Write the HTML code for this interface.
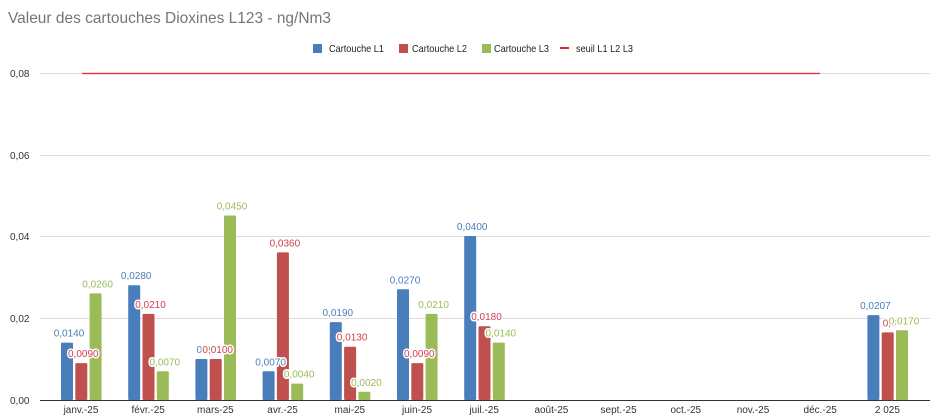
<!DOCTYPE html>
<html><head><meta charset="utf-8"><style>
html,body{margin:0;padding:0;background:#fff;}
svg{display:block;font-family:"Liberation Sans",Arial,sans-serif;}
.ax{font-size:10px;fill:#333;}
.lb{font-size:10px;paint-order:stroke;stroke:#fff;stroke-width:3px;stroke-linejoin:round;text-anchor:middle;}
.b{fill:#4a7ebb}.r{fill:#c0504d}.g{fill:#9bbb59}
.lb.b{fill:#4a7ebb}.lb.r{fill:#d04050}.lb.g{fill:#9bbb59}
.lg{font-size:10.5px;fill:#222;}
</style></head><body>
<svg width="940" height="417" viewBox="0 0 940 417">
<text x="8" y="23" font-size="16" fill="#757575" textLength="323" lengthAdjust="spacingAndGlyphs">Valeur des cartouches Dioxines L123 - ng/Nm3</text>
<rect x="313" y="44" width="9" height="9" fill="#4a7ebb"/><text class="lg" x="329" y="52" textLength="55" lengthAdjust="spacingAndGlyphs">Cartouche L1</text>
<rect x="399" y="44" width="9" height="9" fill="#c0504d"/><text class="lg" x="412" y="52" textLength="55" lengthAdjust="spacingAndGlyphs">Cartouche L2</text>
<rect x="482" y="44" width="9" height="9" fill="#9bbb59"/><text class="lg" x="494" y="52" textLength="55" lengthAdjust="spacingAndGlyphs">Cartouche L3</text>
<rect x="560" y="47" width="9" height="2" fill="#e8212b"/><text class="lg" x="576" y="52" textLength="57" lengthAdjust="spacingAndGlyphs">seuil L1 L2 L3</text>
<rect x="40" y="155" width="890" height="1" fill="#ddd"/>
<rect x="40" y="236" width="890" height="1" fill="#ddd"/>
<rect x="40" y="318" width="890" height="1" fill="#ddd"/>
<rect x="40" y="73" width="42" height="1" fill="#ddd"/>
<rect x="820" y="73" width="110" height="1" fill="#ddd"/>
<rect x="40" y="400" width="890" height="1" fill="#333"/>
<g class="ax"><text x="10" y="77">0,08</text><text x="10" y="159">0,06</text><text x="10" y="240">0,04</text><text x="10" y="322">0,02</text><text x="10" y="404">0,00</text></g>
<g id="bars"></g>
<rect x="82" y="72.8" width="738" height="1.4" style="fill:#f03040"/>
</svg>
<script>
var d=[[.014,.009,.026],[.028,.021,.007],[.010,.010,.045],[.007,.036,.004],[.019,.013,.002],[.027,.009,.021],[.040,.018,.014],null,null,null,null,null,[.0207,.0165,.0170]];
var n=["janv.-25","févr.-25","mars-25","avr.-25","mai-25","juin-25","juil.-25","août-25","sept.-25","oct.-25","nov.-25","déc.-25","2 025"];
var lab=[["0,0140","0,0090","0,0260"],["0,0280","0,0210","0,0070"],["0,0","0,0100","0,0450"],["0,0070","0,0360","0,0040"],["0,0190","0,0130","0,0020"],["0,0270","0,0090","0,0210"],["0,0400","0,0180","0,0140"],0,0,0,0,0,["0,0207","0,0","0,0170"]];
var c=["b","r","g"],s="";
for(var i=0;i<13;i++){var cx=81+i*67.2;
s+='<text class="ax" x="'+cx+'" y="413" text-anchor="middle">'+n[i]+'</text>';
if(!d[i])continue;
for(var k=0;k<3;k++){var x=cx-20+k*14.3,h=d[i][k]*4100,y=400-h;
s+='<rect class="'+c[k]+'" x="'+x.toFixed(1)+'" y="'+y.toFixed(1)+'" width="12" height="'+h.toFixed(1)+'" rx="1"/>';}
for(var k=0;k<3;k++){var x=cx-12+k*14.3,y=400-d[i][k]*4100-6;
s+='<text class="lb '+c[k]+'" x="'+x.toFixed(1)+'" y="'+y.toFixed(1)+'">'+lab[i][k]+'</text>';}}
document.getElementById("bars").innerHTML=s;
</script>
</body></html>
